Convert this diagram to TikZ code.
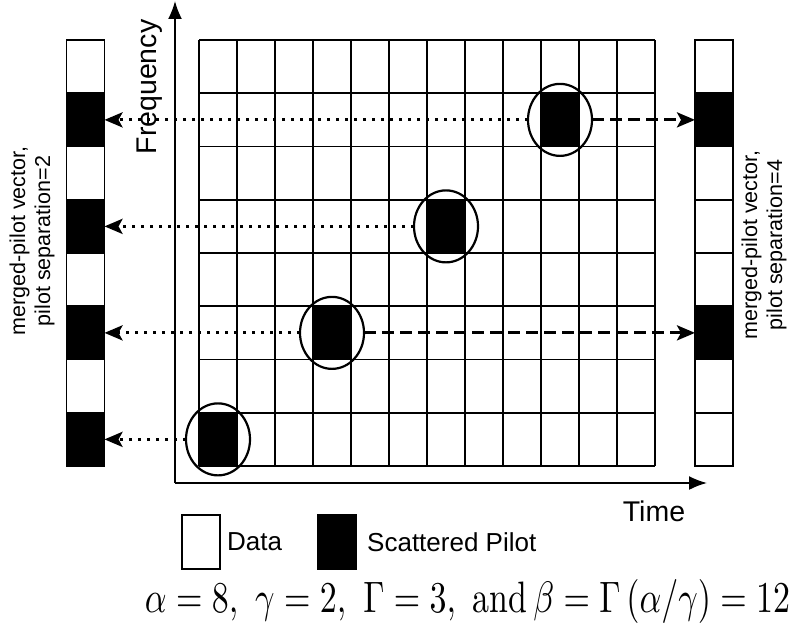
\documentclass[tikz,border=0pt]{standalone}
\usepackage{fontspec}
\usepackage{graphicx}
\newfontfamily\arial{Liberation Sans}
\usetikzlibrary{arrows.meta,shapes.geometric}
\begin{document}
\begin{tikzpicture}[x=1pt,y=-1pt,
  cell/.style={draw=black,line width=1.6pt,minimum width=38pt,minimum height=53.25pt,inner sep=0pt,outer sep=0pt},
  wcell/.style={cell,fill=white},
  bcell/.style={cell,fill=black},
  ring/.style={draw=black,line width=2.2pt,ellipse,minimum width=64pt,minimum height=72pt,inner sep=0pt,outer sep=0pt},
  axisline/.style={line width=1.8pt,-{Latex[length=18pt,width=14pt]}},
  gridline/.style={line width=1.9pt},
  dotarrow/.style={line width=3.2pt,dash pattern=on 3.2pt off 5.8pt,-{Stealth[length=18pt,width=15pt,inset=4pt]}},
  dasharrow/.style={line width=3pt,dash pattern=on 12pt off 6pt,-{Stealth[length=18pt,width=15pt,inset=4pt]}},
  bigtxt/.style={font=\arial\fontsize{28.5}{30}\selectfont,inner sep=0pt},
  sidetxt/.style={font=\arial\fontsize{21.5}{25}\selectfont,align=center,inner sep=0pt,rotate=90},
  legtxt/.style={font=\arial\fontsize{26}{28}\selectfont,inner sep=0pt,anchor=west}
]
\useasboundingbox (0,0) rectangle (800,634);
% pilot cells
\fill (199,412.75) rectangle (237,466);
\fill (313,306.25) rectangle (351,359.5);
\fill (427,199.75) rectangle (465,253);
\fill (541,93.25) rectangle (579,146.5);
% grid
\foreach \i in {0,...,12} \draw[gridline] ({199+38*\i},40) -- ({199+38*\i},466);
\foreach \j in {0,...,8} \draw[gridline] (199,{40+53.25*\j}) -- (655,{40+53.25*\j});
% pilot rings
\node[ring] (p1) at (218,439.375) {};
\node[ring] (p2) at (332,332.875) {};
\node[ring] (p3) at (446,226.375) {};
\node[ring] (p4) at (560,119.875) {};
% axes
\coordinate (O) at (175,483);
\coordinate (ytip) at (175,1);
\coordinate (xtip) at (707,483);
\draw[axisline] (O) -- (ytip);
\draw[axisline] (O) -- (xtip);
% vectors
\foreach \r/\s in {0/wcell,1/bcell,2/wcell,3/bcell,4/wcell,5/bcell,6/wcell,7/bcell}
  \node[\s] (L\r) at (85.5,{40+53.25*(\r+0.5)}) {};
\foreach \r/\s in {0/wcell,1/bcell,2/wcell,3/wcell,4/wcell,5/bcell,6/wcell,7/wcell}
  \node[\s] (R\r) at (714,{40+53.25*(\r+0.5)}) {};
% arrows
\draw[dotarrow] (p4.west) -- (L1.east);
\draw[dotarrow] (p3.west) -- (L3.east);
\draw[dotarrow] (p2.west) -- (L5.east);
\draw[dotarrow] (p1.west) -- (L7.east);
\draw[dasharrow] (p4.east) -- (R1.west);
\draw[dasharrow] (p2.east) -- (R5.west);
% labels
\node[bigtxt,rotate=90] (freq) at (150,87) {Frequency};
\node[bigtxt] (time) at (654,511) {Time};
\node[sidetxt] (lside) at (32,241) {merged-pilot vector,\\pilot separation=2};
\node[sidetxt] (rside) at (764,245) {merged-pilot vector,\\pilot separation=4};
% legend
\node[wcell,minimum height=54pt] (legw) at (201,542) {};
\node[legtxt] (legwt) at (227,542) {Data};
\node[bcell,minimum height=54pt] (legb) at (337,542) {};
\node[legtxt] (legbt) at (367,542) {Scattered Pilot};
% formula
\node[inner sep=0pt] (formula) at (467.5,601) {\resizebox*{645pt}{44pt}{$\alpha=8,\ \gamma=2,\ \Gamma=3,\ \mbox{and}\,\beta=\Gamma\left(\alpha/\gamma\right)=12$}};
\end{tikzpicture}
\end{document}
